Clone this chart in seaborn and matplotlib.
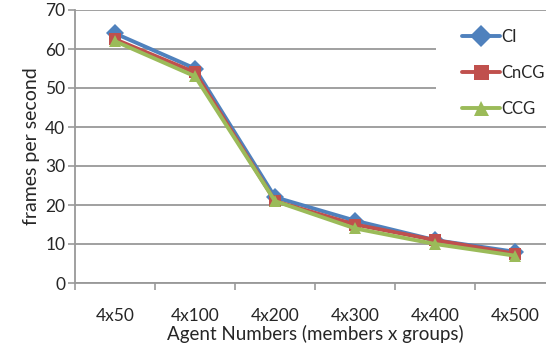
import pandas as pd
import seaborn as sns
import matplotlib.pyplot as plt
from matplotlib.ticker import FixedLocator
from matplotlib.patches import Rectangle

# datos
agentes = ["4x50", "4x100", "4x200", "4x300", "4x400", "4x500"]
ci = [64, 55, 22, 16, 11, 8]
cncg = [62.5, 54, 21, 15, 11, 7.5]
ccg = [62, 53, 21, 14, 10, 7]

df = pd.DataFrame({
    "pos": list(range(len(agentes))) * 3,
    "fps": ci + cncg + ccg,
    "serie": ["CI"] * 6 + ["CnCG"] * 6 + ["CCG"] * 6,
})

sns.set_style("white")
plt.rcParams["font.family"] = ["Lato", "DejaVu Sans"]

fig = plt.figure(figsize=(5.46, 3.52), dpi=100)
ax = fig.add_axes([75 / 546, 1 - 283 / 352, 480 / 546, 273 / 352])

colores = {"CI": "#4F81BD", "CnCG": "#C0504D", "CCG": "#9BBB59"}
marcas = {"CI": "D", "CnCG": "s", "CCG": "^"}
sns.lineplot(data=df, x="pos", y="fps", hue="serie", style="serie",
             palette=colores, markers=marcas, dashes=False,
             linewidth=2.8, markersize=9, markeredgewidth=0, ax=ax)

ax.set_xlim(-0.5, 5.5)
ax.set_ylim(0, 70)
ax.set_yticks(range(0, 71, 10))
ax.set_xticks(range(len(agentes)))
ax.set_xticklabels(agentes)
ax.xaxis.set_minor_locator(FixedLocator([i - 0.5 for i in range(7)]))
ax.tick_params(axis="x", which="major", length=0, pad=18, labelsize=12.5)
ax.tick_params(axis="x", which="minor", length=5, width=1.2, color="#999999", direction="out", bottom=True)
ax.tick_params(axis="y", length=5, width=1.2, color="#999999", direction="out", left=True, labelsize=12.5, pad=2)
ax.grid(axis="y", color="#999999", linewidth=1.3)
ax.set_axisbelow(True)
for s in ["top", "right"]:
    ax.spines[s].set_visible(False)
for s in ["left", "bottom"]:
    ax.spines[s].set_color("#999999")
    ax.spines[s].set_linewidth(1.3)

ax.set_xlabel("Agent Numbers (members x groups)", fontsize=13.5, labelpad=1)
ax.set_ylabel("frames per second", fontsize=14, labelpad=4)

# fondo blanco de la leyenda que tapa la cuadrícula
ax.add_patch(Rectangle((436 / 546, 1 - 122 / 352), 110 / 546, 100 / 352,
                       transform=fig.transFigure, facecolor="white", edgecolor="none",
                       zorder=1.5, clip_on=False))

leg = ax.legend(loc="upper left", bbox_to_anchor=(462 / 546, 1 - 29 / 352), bbox_transform=fig.transFigure,
                frameon=False, handlelength=2.3, handletextpad=0.08, labelspacing=1.2,
                fontsize=12, borderpad=0, borderaxespad=0, markerscale=1.2)

plt.savefig("out.png", dpi=100)
plt.close()
